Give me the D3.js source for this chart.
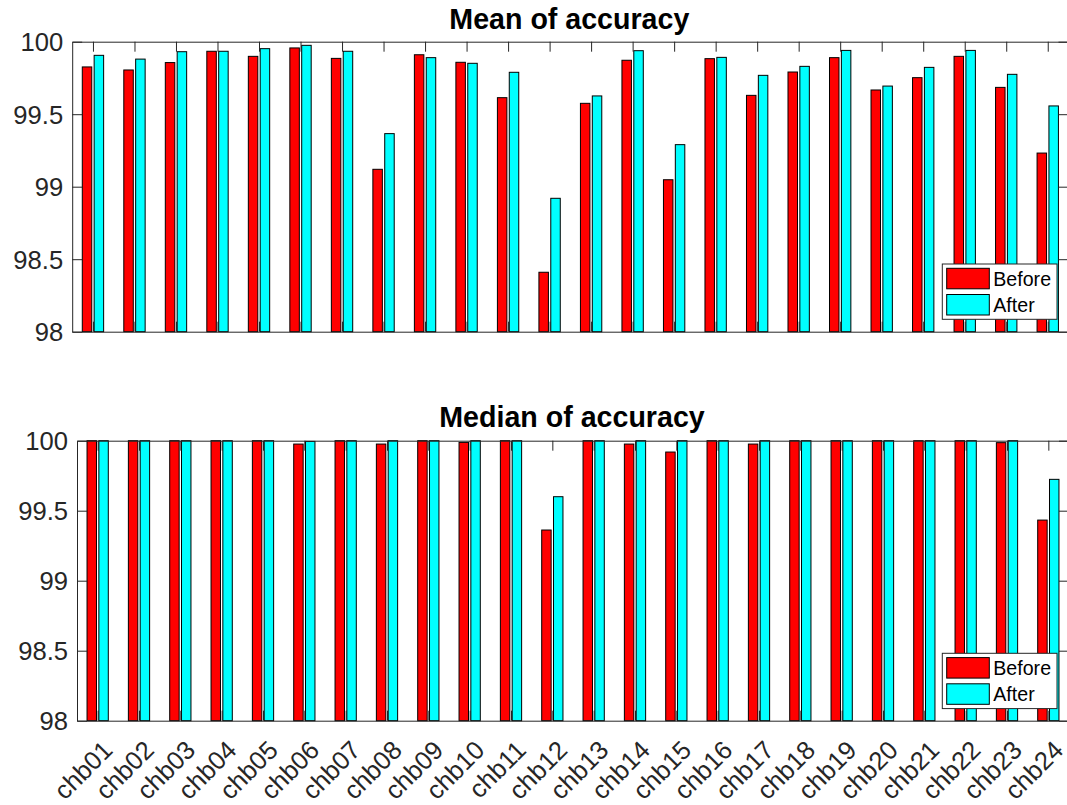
<!DOCTYPE html>
<html>
<head>
<meta charset="utf-8">
<script src="https://cdn.jsdelivr.net/npm/d3@7"></script>
<style>
  html, body { margin: 0; padding: 0; background: #fff; }
  svg { display: block; font-family: "Liberation Sans", Arial, sans-serif; }
</style>
</head>
<body>
<svg id="chart" width="1067" height="805"></svg>
<script>
// Recordings chb01..chb24
const categories = ["chb01","chb02","chb03","chb04","chb05","chb06","chb07","chb08",
  "chb09","chb10","chb11","chb12","chb13","chb14","chb15","chb16",
  "chb17","chb18","chb19","chb20","chb21","chb22","chb23","chb24"];

// Mean accuracy (%) per recording
const meanBefore = [99.826, 99.805, 99.856, 99.934, 99.899, 99.957, 99.885, 99.120,
  99.910, 99.858, 99.614, 98.410, 99.575, 99.872, 99.048, 99.883,
  99.630, 99.791, 99.890, 99.667, 99.752, 99.899, 99.685, 99.232];
const meanAfter = [99.906, 99.880, 99.931, 99.934, 99.952, 99.975, 99.934, 99.366,
  99.890, 99.851, 99.789, 98.920, 99.626, 99.938, 99.290, 99.892,
  99.768, 99.830, 99.940, 99.694, 99.823, 99.940, 99.775, 99.557];

// Median accuracy (%) per recording
const medianBefore = [100, 100, 100, 100, 100, 99.976, 100, 99.976,
  100, 99.988, 100, 99.362, 100, 99.976, 99.919, 100,
  99.976, 100, 100, 100, 100, 100, 99.986, 99.433];
const medianAfter = [100, 100, 100, 100, 100, 99.995, 100, 100,
  100, 100, 100, 99.600, 100, 100, 100, 100,
  100, 100, 100, 100, 100, 100, 100, 99.724];

const seriesNames = ["Before", "After"];
const seriesColors = ["#ff0000", "#00ffff"];
const yTicks = [98, 98.5, 99, 99.5, 100];
const yDomain = [98, 100];

const axisColor = "#262626";
const svg = d3.select("#chart");
svg.append("rect").attr("width", 1067).attr("height", 805).attr("fill", "#fff");

const panels = [
  { title: "Mean of accuracy", values: [meanBefore, meanAfter],
    left: 72.2, right: 1068.5, top: 41.7, bottom: 331.7, titleY: 28.5, xLabels: false,
    legend: { x: 942.3, y: 264 } },
  { title: "Median of accuracy", values: [medianBefore, medianAfter],
    left: 77, right: 1069, top: 440.7, bottom: 720.7, titleY: 426.7, xLabels: true,
    legend: { x: 942.3, y: 653.3 } }
];

// Grouped bar geometry (two series per category)
const nSeries = 2;
const groupWidth = Math.min(0.8, nSeries / (nSeries + 1.5));
const barWidth = groupWidth / nSeries * 0.8;
const offsets = d3.range(nSeries).map(i => (2 * (i + 1) - 1 - nSeries) / (2 * nSeries) * groupWidth);

panels.forEach(p => {
  const x = d3.scaleLinear().domain([0.5, categories.length + 0.5]).range([p.left, p.right]);
  const y = d3.scaleLinear().domain(yDomain).range([p.bottom, p.top]);
  const g = svg.append("g");

  // Bars
  p.values.forEach((vals, s) => {
    g.append("g").selectAll("rect")
      .data(vals)
      .join("rect")
      .attr("x", (d, i) => x(i + 1 + offsets[s] - barWidth / 2))
      .attr("width", x(barWidth) - x(0))
      .attr("y", d => y(d))
      .attr("height", d => y(yDomain[0]) - y(d))
      .attr("fill", seriesColors[s])
      .attr("stroke", "#000")
      .attr("stroke-width", 1);
  });

  const styleAxis = sel => {
    sel.selectAll("path.domain").attr("stroke", axisColor).attr("stroke-width", 1);
    sel.selectAll(".tick line").attr("stroke", axisColor).attr("stroke-width", 1);
    sel.selectAll(".tick text").attr("fill", axisColor).attr("font-size", 25.6);
  };

  // Y axes (ticks point inward)
  const yl = g.append("g").attr("transform", `translate(${p.left},0)`)
    .call(d3.axisLeft(y).tickValues(yTicks).tickSizeInner(-10).tickSizeOuter(0)
      .tickPadding(9).tickFormat(d3.format("")));
  styleAxis(yl);
  yl.selectAll(".tick text").attr("dy", "0.36em");

  const yr = g.append("g").attr("transform", `translate(${p.right},0)`)
    .call(d3.axisRight(y).tickValues(yTicks).tickSizeInner(-10).tickSizeOuter(0).tickFormat(""));
  styleAxis(yr);

  // X axes
  const ticks = d3.range(1, categories.length + 1);
  const xb = g.append("g").attr("transform", `translate(0,${p.bottom})`)
    .call(d3.axisBottom(x).tickValues(ticks).tickSizeInner(-10).tickSizeOuter(0)
      .tickFormat(p.xLabels ? (d => categories[d - 1]) : ""));
  styleAxis(xb);
  if (p.xLabels) {
    xb.selectAll(".tick text")
      .attr("y", null).attr("dy", null)
      .attr("text-anchor", "end")
      .attr("transform", "translate(16,31) rotate(-45)");
  }
  const xt = g.append("g").attr("transform", `translate(0,${p.top})`)
    .call(d3.axisTop(x).tickValues(ticks).tickSizeInner(-10).tickSizeOuter(0).tickFormat(""));
  styleAxis(xt);

  // Title
  svg.append("text")
    .attr("x", (p.left + p.right) / 2 - 1)
    .attr("y", p.titleY)
    .attr("text-anchor", "middle")
    .attr("font-weight", "bold")
    .attr("font-size", 28.6)
    .attr("fill", "#000")
    .text(p.title);

  // Legend
  const lg = svg.append("g").attr("transform", `translate(${p.legend.x},${p.legend.y})`);
  lg.append("rect").attr("width", 114.7).attr("height", 55.3)
    .attr("fill", "#fff").attr("stroke", axisColor).attr("stroke-width", 1);
  seriesNames.forEach((name, i) => {
    lg.append("rect")
      .attr("x", 4.4).attr("y", 4.3 + i * 26.2)
      .attr("width", 42.6).attr("height", 20.5)
      .attr("fill", seriesColors[i]).attr("stroke", "#000").attr("stroke-width", 1);
    lg.append("text")
      .attr("x", 51).attr("y", 22 + i * 26.2)
      .attr("font-size", 19.6).attr("fill", "#000")
      .text(name);
  });
});
</script>
</body>
</html>
